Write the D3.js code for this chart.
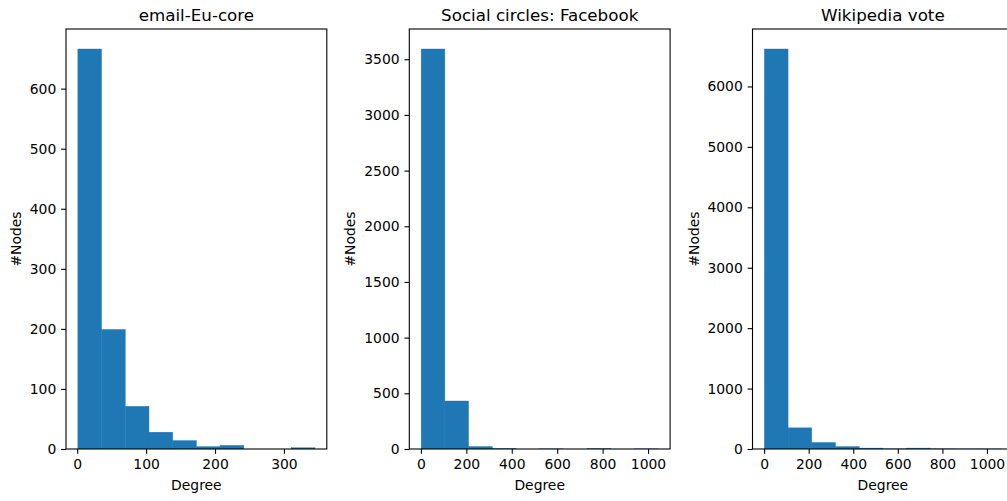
<!DOCTYPE html>
<html>
<head>
<meta charset="utf-8">
<script src="https://cdn.jsdelivr.net/npm/d3@7"></script>
<style>
  html, body { margin: 0; padding: 0; background: #fff; }
  svg { display: block; font-family: "DejaVu Sans", sans-serif; }
</style>
</head>
<body>
<svg id="chart" width="1007" height="501"></svg>
<script>
// Degree histograms (10 equal-width bins between min and max degree)
const titles = ["email-Eu-core", "Social circles: Facebook", "Wikipedia vote"];

const emailRange = [1, 345];
const emailCounts = [666, 199, 71, 28, 14, 4, 6, 0, 0, 2];

const facebookRange = [1, 1045];
const facebookCounts = [3592, 431, 22, 3, 0, 1, 0, 2, 0, 1];

const wikiRange = [1, 1065];
const wikiCounts = [6620, 350, 108, 40, 15, 2, 15, 2, 1, 1];

const emailXTicks = [0, 100, 200, 300];
const facebookXTicks = [0, 200, 400, 600, 800, 1000];
const wikiXTicks = [0, 200, 400, 600, 800, 1000];

const emailYTicks = [0, 100, 200, 300, 400, 500, 600];
const facebookYTicks = [0, 500, 1000, 1500, 2000, 2500, 3000, 3500];
const wikiYTicks = [0, 1000, 2000, 3000, 4000, 5000, 6000];

const xLabel = "Degree";
const yLabel = "#Nodes";

const panels = [
  { title: titles[0], range: emailRange, counts: emailCounts, xTicks: emailXTicks, yTicks: emailYTicks },
  { title: titles[1], range: facebookRange, counts: facebookCounts, xTicks: facebookXTicks, yTicks: facebookYTicks },
  { title: titles[2], range: wikiRange, counts: wikiCounts, xTicks: wikiXTicks, yTicks: wikiYTicks }
];

const svg = d3.select("#chart");
const lefts = [66, 409.3, 752.5];
const axW = 260.8;
const axTop = 29, axBottom = 449;
const tickLen = 4.86, tickPad = 4.86;
const fontTick = 13.9, fontTitle = 16.7;
const barColor = "#1f77b4";

panels.forEach((p, i) => {
  const x0 = lefts[i];
  const g = svg.append("g").attr("transform", `translate(${x0},0)`);

  const span = p.range[1] - p.range[0];
  const x = d3.scaleLinear()
    .domain([p.range[0] - 0.05 * span, p.range[1] + 0.05 * span])
    .range([0, axW]);
  const ymax = d3.max(p.counts) * 1.05;
  const y = d3.scaleLinear().domain([0, ymax]).range([axBottom, axTop]);

  const nb = p.counts.length;
  const w = span / nb;
  const bins = p.counts.map((c, k) => ({
    x0: p.range[0] + k * w,
    x1: p.range[0] + (k + 1) * w,
    c
  }));

  const clipId = "clip" + i;
  g.append("clipPath").attr("id", clipId)
    .append("rect").attr("x", 0).attr("y", axTop).attr("width", axW).attr("height", axBottom - axTop);

  g.append("g").attr("clip-path", `url(#${clipId})`)
    .selectAll("rect.bar").data(bins.filter(d => d.c > 0)).join("rect")
    .attr("class", "bar")
    .attr("x", d => x(d.x0))
    .attr("width", d => x(d.x1) - x(d.x0))
    .attr("y", d => y(d.c))
    .attr("height", d => y(0) - y(d.c))
    .attr("fill", barColor)
    .attr("stroke", barColor)
    .attr("stroke-width", 0.4);

  // x axis
  const xa = g.append("g").attr("transform", `translate(0,${axBottom})`)
    .call(d3.axisBottom(x).tickValues(p.xTicks).tickFormat(d3.format("d"))
      .tickSize(tickLen).tickPadding(tickPad));
  xa.select(".domain").remove();
  xa.selectAll("line").attr("stroke", "#000").attr("stroke-width", 1.1);
  xa.selectAll("text").attr("font-size", fontTick).attr("fill", "#000")
    .attr("font-family", "DejaVu Sans, sans-serif");

  // y axis
  const ya = g.append("g")
    .call(d3.axisLeft(y).tickValues(p.yTicks).tickFormat(d3.format("d"))
      .tickSize(tickLen).tickPadding(tickPad));
  ya.select(".domain").remove();
  ya.selectAll("line").attr("stroke", "#000").attr("stroke-width", 1.1);
  ya.selectAll("text").attr("font-size", fontTick).attr("fill", "#000")
    .attr("font-family", "DejaVu Sans, sans-serif");

  let maxW = 0;
  ya.selectAll("text").each(function () { maxW = Math.max(maxW, this.getComputedTextLength()); });

  // frame
  g.append("rect")
    .attr("x", 0).attr("y", axTop).attr("width", axW).attr("height", axBottom - axTop)
    .attr("fill", "none").attr("stroke", "#000").attr("stroke-width", 1.1);

  // title
  g.append("text")
    .attr("x", axW / 2).attr("y", 21)
    .attr("text-anchor", "middle")
    .attr("font-size", fontTitle)
    .attr("fill", "#000")
    .text(p.title);

  // x label
  g.append("text")
    .attr("x", axW / 2).attr("y", 489.5)
    .attr("text-anchor", "middle")
    .attr("font-size", fontTick)
    .attr("fill", "#000")
    .text(xLabel);

  // y label
  const lx = -(tickLen + tickPad + maxW + 5.6 + 3.3);
  g.append("text")
    .attr("transform", `translate(${lx},${(axTop + axBottom) / 2}) rotate(-90)`)
    .attr("text-anchor", "middle")
    .attr("font-size", fontTick)
    .attr("fill", "#000")
    .text(yLabel);
});
</script>
</body>
</html>
